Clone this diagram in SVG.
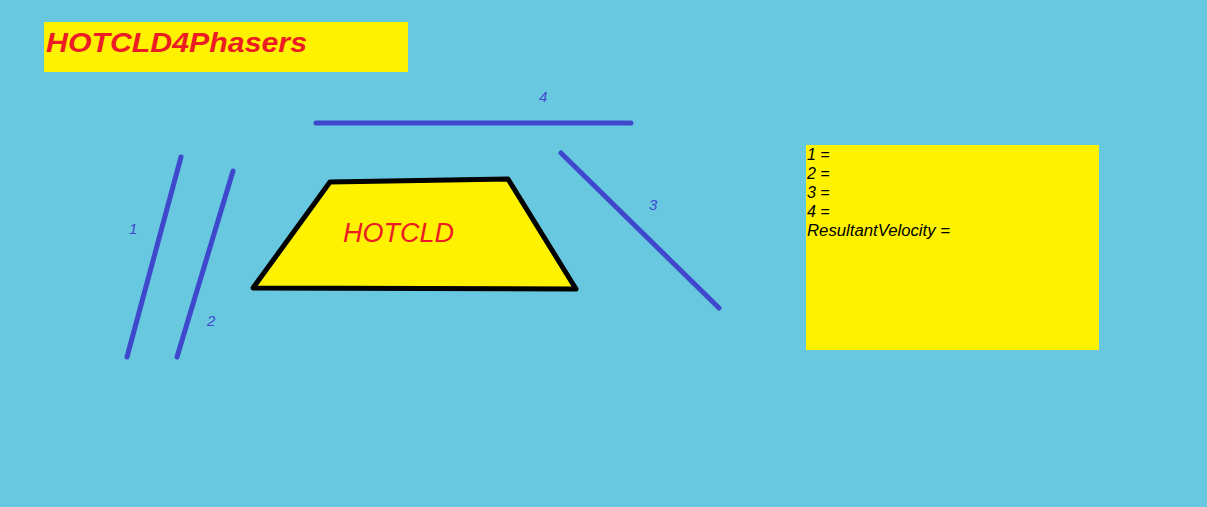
<svg xmlns="http://www.w3.org/2000/svg" width="1207" height="507" viewBox="0 0 1207 507">
<style>
.bl{stroke:#3F48CC;stroke-width:5;stroke-linecap:round;fill:none}
.lab{font-family:"Liberation Sans",Arial,sans-serif;font-style:italic;font-size:15px;fill:#3F48CC}
.eq{font-family:"Liberation Sans",Arial,sans-serif;font-style:italic;font-size:16px;fill:#000}
</style>
<rect width="1207" height="507" fill="#68C8E0"/>
<g id="title">
<rect x="44" y="22" width="364" height="50" fill="#FFF200"/>
<text x="46" y="52" font-family="'Liberation Sans',Arial,sans-serif" font-weight="bold" font-style="italic" font-size="28" fill="#ED1C24" textLength="261" lengthAdjust="spacingAndGlyphs">HOTCLD4Phasers</text>
</g>
<g id="hotcld">
<polygon points="330,182 508,179 576,289 253,288" fill="#FFF200" stroke="#000" stroke-width="5" stroke-linejoin="round"/>
<text x="343" y="242" font-family="'Liberation Sans',Arial,sans-serif" font-style="italic" font-size="27" fill="#ED1C24">HOTCLD</text>
</g>
<g id="connectors">
<line class="bl" x1="181" y1="157" x2="127" y2="357"/>
<line class="bl" x1="233" y1="171" x2="177" y2="357"/>
<line class="bl" x1="561" y1="153" x2="719" y2="308"/>
<line class="bl" x1="316" y1="123" x2="631" y2="123"/>
<text class="lab" x="129" y="234">1</text>
<text class="lab" x="207" y="326">2</text>
<text class="lab" x="649" y="210">3</text>
<text class="lab" x="539" y="102">4</text>
</g>
<g id="results">
<rect x="806" y="145" width="293" height="205" fill="#FFF200"/>
<text class="eq" x="807" y="160">1 =</text>
<text class="eq" x="807" y="179">2 =</text>
<text class="eq" x="807" y="198">3 =</text>
<text class="eq" x="807" y="217">4 =</text>
<text class="eq" x="807" y="236" textLength="143" lengthAdjust="spacingAndGlyphs">ResultantVelocity =</text>
</g>
</svg>
